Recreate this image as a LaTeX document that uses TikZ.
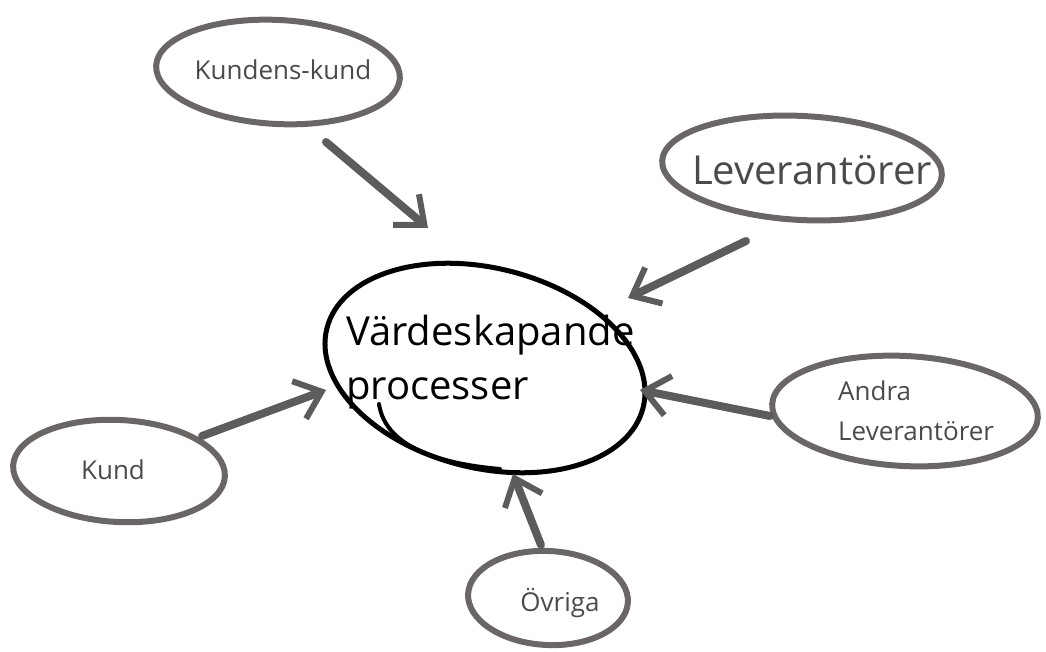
\documentclass[tikz,border=0pt]{standalone}
\usepackage{fontspec}
\setmainfont{Open Sans}
\usetikzlibrary{arrows.meta,shapes.geometric}
\definecolor{ring}{HTML}{6B6666}
\definecolor{arr}{HTML}{5C5C5C}
\definecolor{txt}{HTML}{4A4A4A}
\begin{document}
\begin{tikzpicture}[x=1pt,y=-1pt,
  ringshape/.style={ellipse, draw=ring, line width=6pt, inner sep=0pt},
  lbl/.style={text=txt, font=\fontsize{26}{32}\selectfont, align=left, inner sep=0pt},
  flow/.style={draw=arr, line width=8pt, line cap=round,
    -{Straight Barb[length=24pt, width=40pt, line width=6pt]}}]
\useasboundingbox (0,0) rectangle (1046,652);
% outer ellipses
\node[ringshape, minimum width=244pt, minimum height=104pt, rotate=-3] (kk) at (278,72) {};
\node[ringshape, minimum width=280pt, minimum height=104pt, rotate=-3] (lev) at (802,168) {};
\node[ringshape, minimum width=266pt, minimum height=110pt, rotate=-3] (andra) at (905,411) {};
\node[ringshape, minimum width=212pt, minimum height=102pt, rotate=-3] (kund) at (119,471) {};
\node[ringshape, minimum width=160pt, minimum height=94pt, rotate=-3] (ovr) at (548,598) {};
% central ellipse
\node[ellipse, draw=black, line width=5pt, minimum width=326pt, minimum height=200pt, rotate=-14, inner sep=0pt] (core) at (485,368) {};
\draw[black, line width=4pt, line cap=round] (379,404) .. controls (384,438) and (420,462) .. (500,469);
% texts
\node[lbl] (tkk) at (283,70) {Kundens-kund};
\node[lbl, font=\fontsize{40}{48}\selectfont] (tlev) at (812,170) {Leverantörer};
\node[lbl, anchor=west, font=\fontsize{26}{40}\selectfont] (tandra) at (838,411) {Andra\\Leverantörer};
\node[lbl] (tkund) at (113,470) {Kund};
\node[lbl] (tovr) at (560,603) {Övriga};
\node[lbl, anchor=west, text=black, font=\fontsize{40}{54}\selectfont] (tcore) at (346,362) {Värdeskapande\\processer};
% arrow ends
\coordinate (s1) at (326,142); \coordinate (e1) at (428,228);
\coordinate (s2) at (746,241); \coordinate (e2) at (628,298);
\coordinate (s3) at (770,416); \coordinate (e3) at (640,390);
\coordinate (s4) at (202,436); \coordinate (e4) at (326,390);
\coordinate (s5) at (541,545); \coordinate (e5) at (513,474);
\draw[flow] (s1) -- (e1);
\draw[flow] (s2) -- (e2);
\draw[flow] (s3) -- (e3);
\draw[flow] (s4) -- (e4);
\draw[flow] (s5) -- (e5);
\end{tikzpicture}
\end{document}
